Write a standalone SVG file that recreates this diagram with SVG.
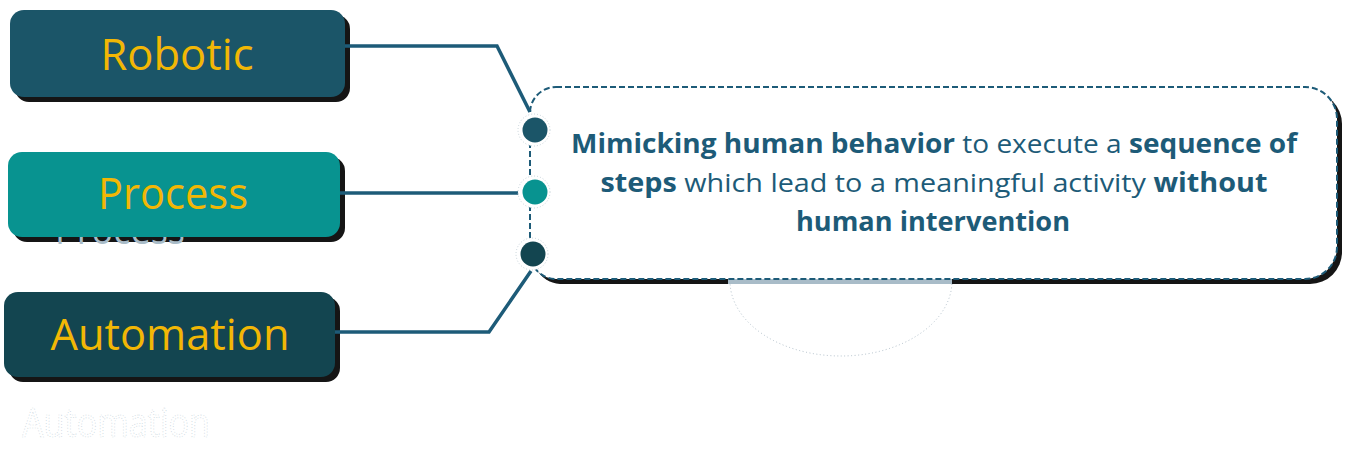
<svg xmlns="http://www.w3.org/2000/svg" width="1350" height="468" viewBox="0 0 1350 468">
<style>
.lbl{font-family:"Open Sans","Noto Sans",sans-serif;font-size:44px;fill:#f2b705;text-anchor:middle}
.ghost{font-family:"Open Sans","Noto Sans",sans-serif;font-size:40px}
.shadow{fill:#151515}
.conn{fill:none;stroke:#1d5b78;stroke-width:3.5;stroke-linejoin:miter}
.halo{fill:#fff;stroke:#b8c6cf;stroke-width:0.8;stroke-dasharray:1 2}
.body{font-family:"Open Sans","Noto Sans",sans-serif;font-size:26px;fill:#1d5b78;text-anchor:middle}
.b{font-weight:bold}
</style>
<rect width="1350" height="468" fill="#ffffff"/>

<!-- ghost text -->
<text class="ghost" x="22" y="437" fill="#ffffff" stroke="#c3d1d9" stroke-width="0.7" stroke-dasharray="1 2" textLength="188" lengthAdjust="spacingAndGlyphs">Automation</text>

<!-- faint semicircle artifact -->
<path d="M 730 281 A 111 75 0 0 0 952 281" fill="none" stroke="#9fb0bc" stroke-width="0.8" stroke-dasharray="1 2.5"/>

<!-- callout -->
<g id="callout">
  <path class="shadow" d="M 561 92 H 1310 A 32 32 0 0 1 1342 124 V 252 A 32 32 0 0 1 1310 284 H 560 A 28 28 0 0 1 536 268 V 118 Z"/>
  <rect x="728" y="279" width="224" height="5" fill="#a9bcc8"/>
  <path d="M 556 87 H 1305 A 32 32 0 0 1 1337 119 V 247 A 32 32 0 0 1 1305 279 H 556 A 26 26 0 0 1 530 253 V 113 A 26 26 0 0 1 556 87 Z" fill="#ffffff" stroke="#1d5b78" stroke-width="2" stroke-dasharray="6 3"/>
  <text class="body" x="934" y="153" textLength="726" lengthAdjust="spacingAndGlyphs"><tspan class="b">Mimicking human behavior</tspan> to execute a <tspan class="b">sequence of</tspan></text>
  <text class="body" x="934" y="192" textLength="667" lengthAdjust="spacingAndGlyphs"><tspan class="b">steps</tspan> which lead to a meaningful activity <tspan class="b">without</tspan></text>
  <text class="body b" x="933" y="231" textLength="274" lengthAdjust="spacingAndGlyphs">human intervention</text>
</g>

<!-- nodes -->
<g id="node-robotic">
  <rect class="shadow" x="15" y="15" width="335" height="87" rx="14"/>
  <rect x="10" y="10" width="335" height="87" rx="14" fill="#1b5568"/>
  <text class="lbl" x="177" y="70" textLength="153" lengthAdjust="spacingAndGlyphs">Robotic</text>
</g>
<g id="node-process">
  <rect class="shadow" x="13" y="157" width="332" height="85" rx="14"/>
  <text class="ghost" x="55" y="244" fill="#a9bcc8" textLength="130" lengthAdjust="spacingAndGlyphs">Process</text>
  <rect x="8" y="152" width="332" height="85" rx="14" fill="#089390"/>
  <text class="lbl" x="173" y="209" textLength="150" lengthAdjust="spacingAndGlyphs">Process</text>
</g>
<g id="node-automation">
  <rect class="shadow" x="9" y="297" width="331" height="85" rx="14"/>
  <rect x="4" y="292" width="331" height="85" rx="14" fill="#134550"/>
  <text class="lbl" x="170" y="350" textLength="239" lengthAdjust="spacingAndGlyphs">Automation</text>
</g>

<!-- connectors -->
<g id="connectors">
  <polyline class="conn" points="345,46 497,46 530,112"/>
  <polyline class="conn" points="340,193 522,193"/>
  <polyline class="conn" points="335,332 489,332 531,271"/>
</g>

<!-- dots -->
<g id="dot-robotic">
  <circle class="halo" cx="534" cy="130" r="16"/>
  <circle cx="535" cy="130" r="12.5" fill="#1b5568"/>
</g>
<g id="dot-process">
  <circle class="halo" cx="534" cy="192" r="16"/>
  <circle cx="535" cy="192" r="12.5" fill="#089390"/>
</g>
<g id="dot-automation">
  <circle class="halo" cx="532" cy="254" r="16"/>
  <circle cx="533" cy="254" r="12.5" fill="#134550"/>
</g>
</svg>
